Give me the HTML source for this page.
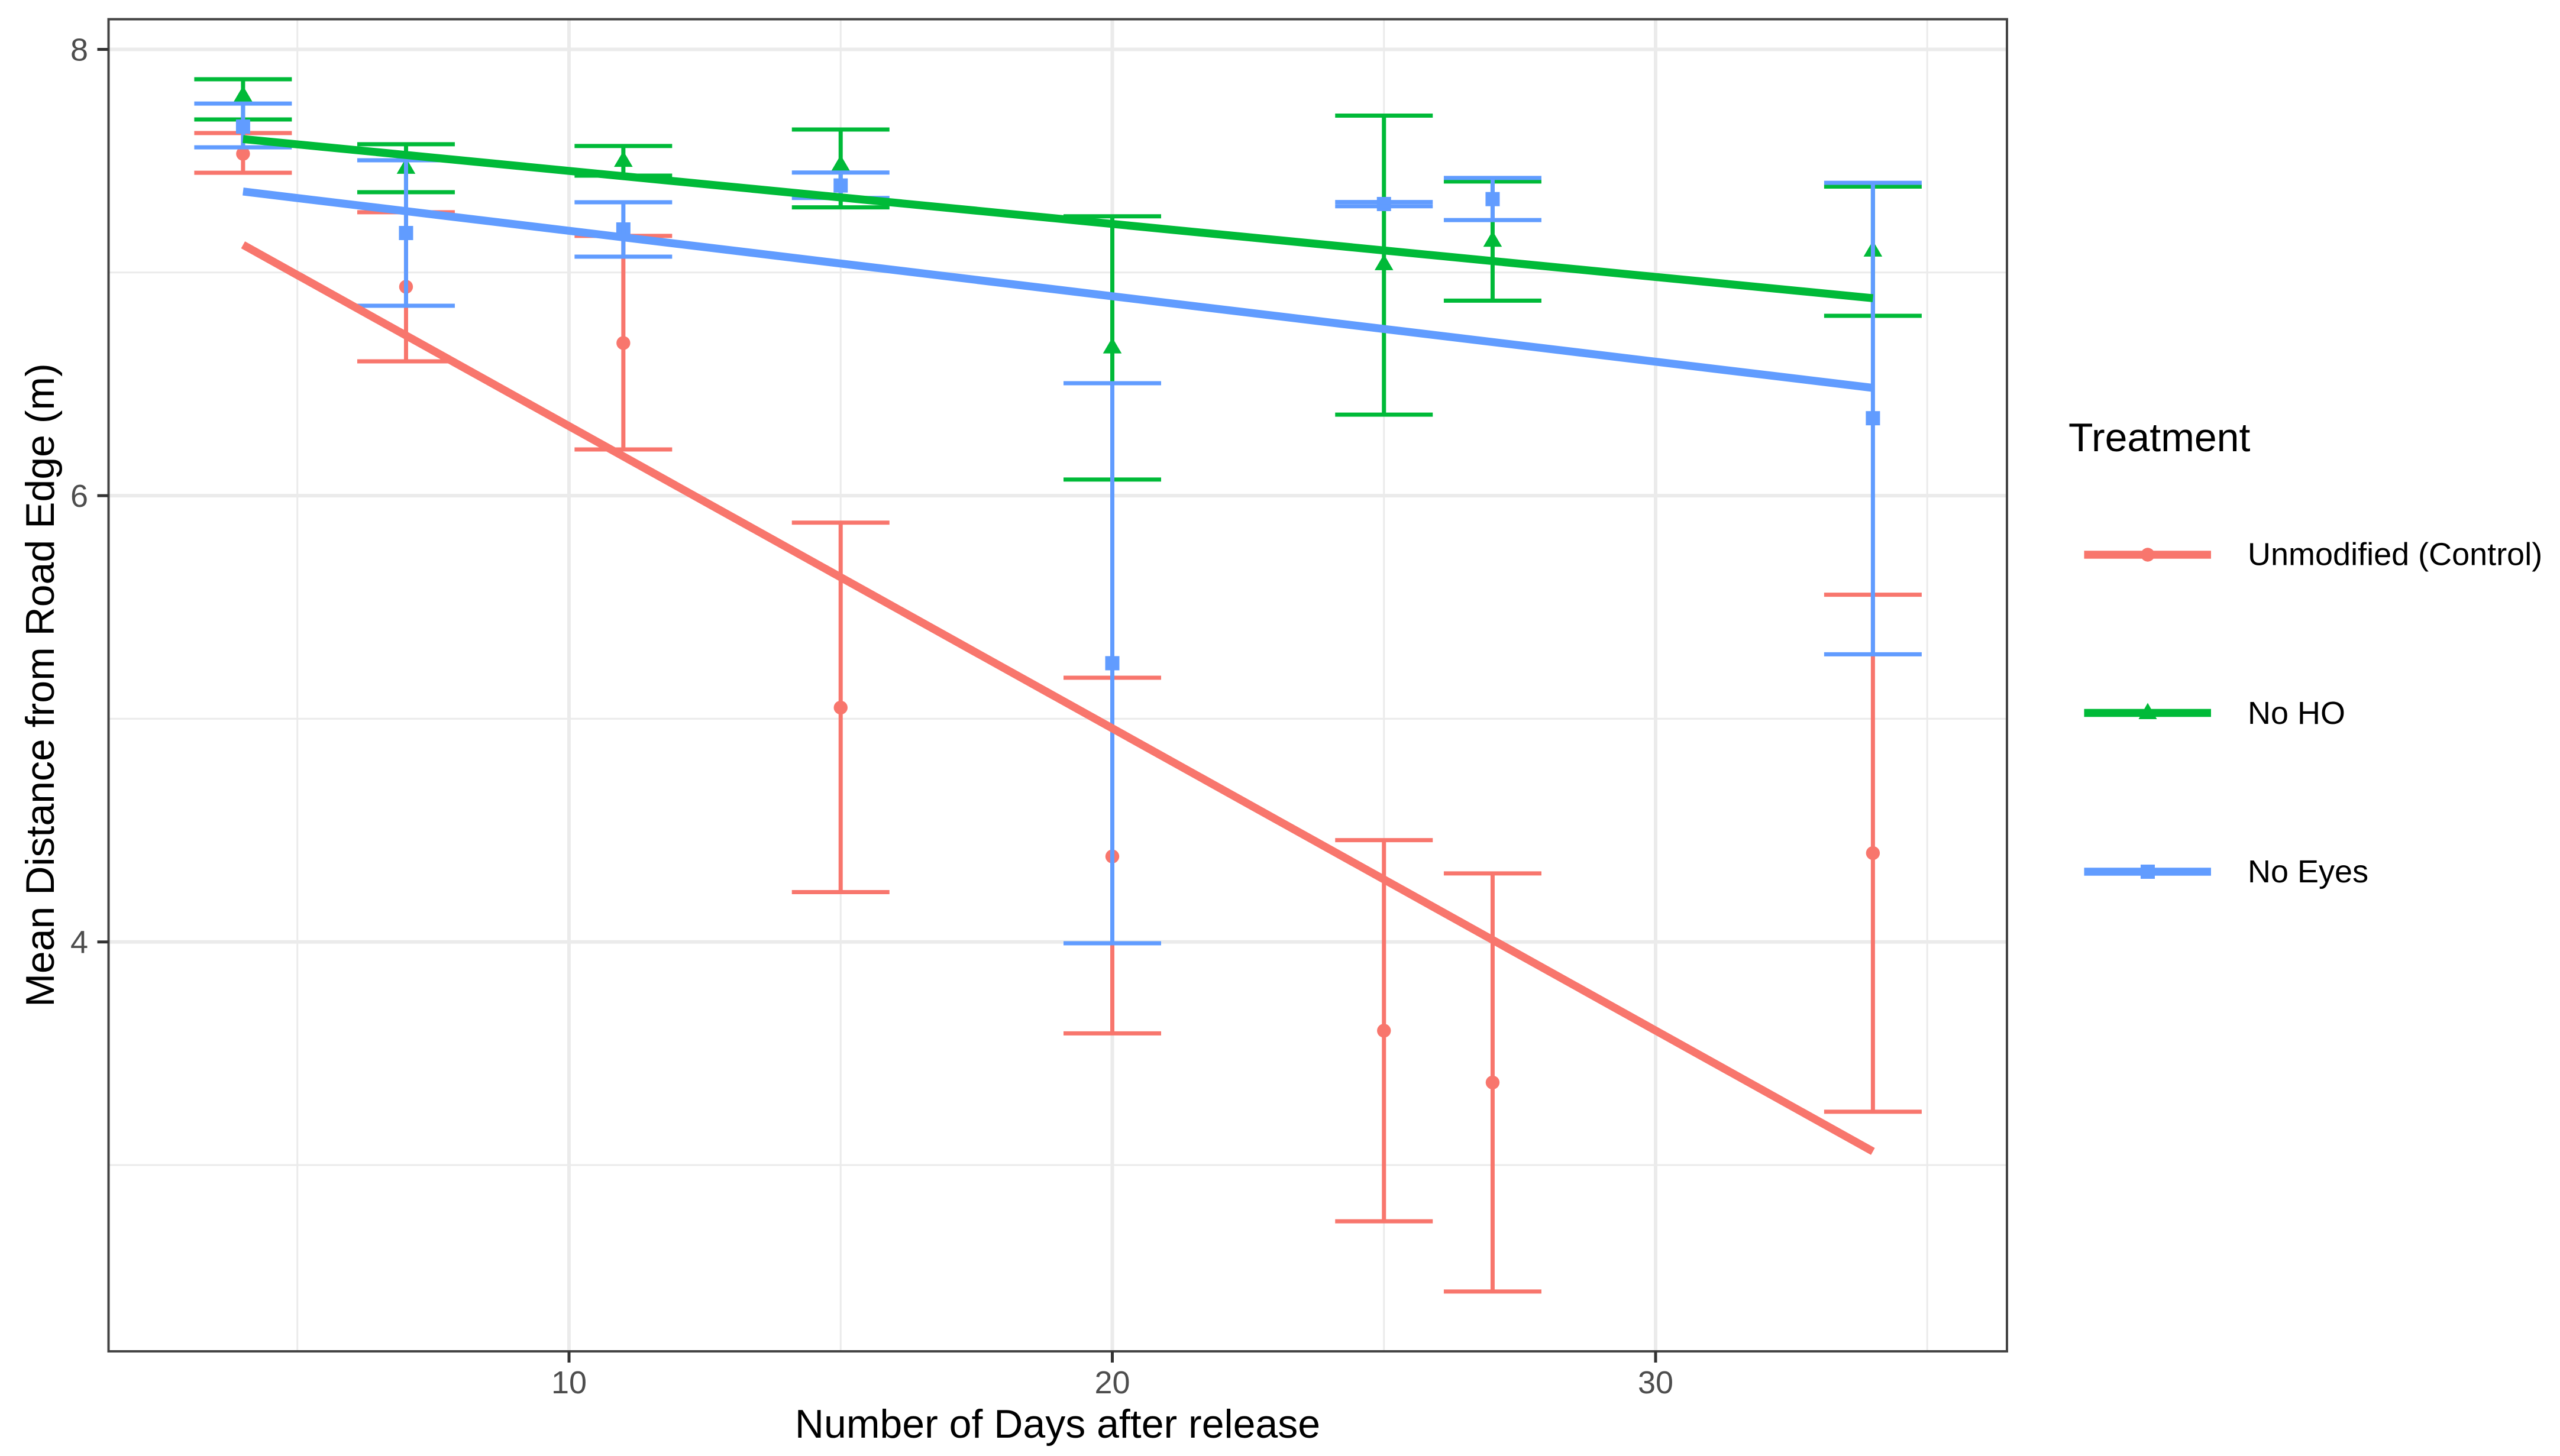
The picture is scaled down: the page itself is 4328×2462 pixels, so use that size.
<!DOCTYPE html>
<html lang="en">
<head>
<meta charset="utf-8">
<title>Mean Distance from Road Edge by Treatment</title>
<style>
  html, body { margin: 0; padding: 0; background: #ffffff; }
  svg { display: block; font-family: "Liberation Sans", Arial, sans-serif; }
  .axis-title, .legend-title { font-size: 68px; fill: #000000; }
  .legend-label { font-size: 54px; fill: #000000; }
  .tick-label { font-size: 54px; fill: #4d4d4d; }
  .grid-major { stroke: #ebebeb; stroke-width: 6; }
  .grid-minor { stroke: #ebebeb; stroke-width: 3; }
  .tick-mark { stroke: #333333; stroke-width: 5; }
  .bar-line { stroke-width: 7; fill: none; }
  .trend-line { stroke-width: 13.5; fill: none; stroke-linecap: butt; }
  .red { stroke: #F8766D; }
  .green { stroke: #00BA38; }
  .blue { stroke: #619CFF; }
  .fill-red { fill: #F8766D; stroke: none; }
  .fill-green { fill: #00BA38; stroke: none; }
  .fill-blue { fill: #619CFF; stroke: none; }
</style>
</head>
<body>
<svg id="chart" xmlns="http://www.w3.org/2000/svg" width="4328" height="2462" viewBox="0 0 4328 2462">
  <rect x="0" y="0" width="4328" height="2462" fill="#ffffff"/>
  <g id="grid"></g>
  <g id="series"></g>
  <g id="trends"></g>
  <rect x="183.5" y="32.5" width="3209.5" height="2252.5" fill="none" stroke="#444444" stroke-width="4"/>
  <g id="axes"></g>

  <text class="axis-title" x="1788" y="2431" text-anchor="middle">Number of Days after release</text>
  <text class="axis-title" transform="translate(91,1158.5) rotate(-90)" text-anchor="middle">Mean Distance from Road Edge (m)</text>

  <g>
    <text class="legend-title" x="3497" y="763">Treatment</text>

    <g>
      <line x1="3523.5" x2="3738" y1="938" y2="938" stroke="#F8766D" stroke-width="13.5"/>
      <circle cx="3631" cy="938" r="11.7" fill="#F8766D"/>
      <text class="legend-label" x="3800" y="955.5">Unmodified (Control)</text>
    </g>

    <g>
      <line x1="3523.5" x2="3738" y1="1205.5" y2="1205.5" stroke="#00BA38" stroke-width="13.5"/>
      <polygon points="3631,1188.5 3646.5,1216 3615.5,1216" fill="#00BA38"/>
      <text class="legend-label" x="3800" y="1224">No HO</text>
    </g>

    <g>
      <line x1="3523.5" x2="3738" y1="1474" y2="1474" stroke="#619CFF" stroke-width="13.5"/>
      <rect x="3619" y="1462" width="24" height="24" fill="#619CFF"/>
      <text class="legend-label" x="3800" y="1492">No Eyes</text>
    </g>
  </g>
</svg>

<script>
// ---- chart data ----
const days = [4, 7, 11, 15, 20, 25, 27, 34];

const unmodifiedMean = [7.532, 6.936, 6.684, 5.050, 4.383, 3.602, 3.370, 4.398];
const unmodifiedLow  = [7.447, 6.602, 6.207, 4.223, 3.590, 2.748, 2.433, 3.239];
const unmodifiedHigh = [7.625, 7.270, 7.164, 5.879, 5.184, 4.456, 4.307, 5.556];

const noHoMean = [7.792, 7.469, 7.500, 7.482, 6.664, 7.037, 7.142, 7.098];
const noHoLow  = [7.686, 7.360, 7.434, 7.292, 6.072, 6.363, 6.874, 6.806];
const noHoHigh = [7.866, 7.575, 7.567, 7.641, 7.252, 7.703, 7.408, 7.385];

const noEyesMean = [7.654, 7.177, 7.193, 7.390, 5.249, 7.307, 7.329, 6.347];
const noEyesLow  = [7.561, 6.851, 7.071, 7.334, 3.994, 7.297, 7.235, 5.289];
const noEyesHigh = [7.757, 7.503, 7.315, 7.448, 6.504, 7.316, 7.424, 7.402];

const trendDays = [4, 34];
const unmodifiedTrend = [7.124, 3.061];
const noHoTrend = [7.598, 6.885];
const noEyesTrend = [7.363, 6.483];

const xMajorTicks = [10, 20, 30];
const xMinorTicks = [5, 15, 25, 35];
const yMajorTicks = [4, 6, 8];
const yMinorTicks = [3, 5, 7];

// ---- axis functions ----
const PANEL_LEFT = 183.5, PANEL_RIGHT = 3393, PANEL_TOP = 32.5, PANEL_BOTTOM = 2285;
function xScale(day) { return 962 + (day - 10) * 91.85; }
function yScale(value) { return 83.5 + (8 - value) * 377.3; }

const SVG_NS = 'http://www.w3.org/2000/svg';
function make(tag, parent, cls) {
  const el = document.createElementNS(SVG_NS, tag);
  if (cls) el.setAttribute('class', cls);
  parent.appendChild(el);
  return el;
}
function setLine(el, x1, y1, x2, y2) {
  el.setAttribute('x1', x1);
  el.setAttribute('y1', y1);
  el.setAttribute('x2', x2);
  el.setAttribute('y2', y2);
}

const gridGroup = document.getElementById('grid');
const seriesGroup = document.getElementById('series');
const trendGroup = document.getElementById('trends');
const axesGroup = document.getElementById('axes');

// ---- gridlines ----
yMinorTicks.forEach(function (v) {
  const el = make('line', gridGroup, 'grid-minor');
  
  
  setLine(el, PANEL_LEFT, yScale(v), PANEL_RIGHT, yScale(v));
});
xMinorTicks.forEach(function (d) {
  const el = make('line', gridGroup, 'grid-minor');
  
  
  setLine(el, xScale(d), PANEL_TOP, xScale(d), PANEL_BOTTOM);
});
yMajorTicks.forEach(function (v) {
  const el = make('line', gridGroup, 'grid-major');
  
  
  setLine(el, PANEL_LEFT, yScale(v), PANEL_RIGHT, yScale(v));
});
xMajorTicks.forEach(function (d) {
  const el = make('line', gridGroup, 'grid-major');
  
  
  setLine(el, xScale(d), PANEL_TOP, xScale(d), PANEL_BOTTOM);
});

// ---- ticks and tick labels ----
xMajorTicks.forEach(function (d) {
  const tick = make('line', axesGroup, 'tick-mark');
  
  
  setLine(tick, xScale(d), PANEL_BOTTOM, xScale(d), PANEL_BOTTOM + 19);
  const label = make('text', axesGroup, 'tick-label');
  
  
  label.setAttribute('x', xScale(d));
  label.setAttribute('y', 2356);
  label.setAttribute('text-anchor', 'middle');
  label.textContent = String(d);
});
yMajorTicks.forEach(function (v) {
  const tick = make('line', axesGroup, 'tick-mark');
  
  
  setLine(tick, PANEL_LEFT - 19, yScale(v), PANEL_LEFT, yScale(v));
  const label = make('text', axesGroup, 'tick-label');
  
  
  label.setAttribute('x', 149);
  label.setAttribute('y', yScale(v) + 19);
  label.setAttribute('text-anchor', 'end');
  label.textContent = String(v);
});

// ---- error bars and points ----
const CAP = 82.5;
function drawErrorBars(low, high, colorClass) {
  days.forEach(function (d, i) {
    const x = xScale(d), yLow = yScale(low[i]), yHigh = yScale(high[i]);
    const stem = make('line', seriesGroup, 'bar-line ' + colorClass);
    
    
    setLine(stem, x, yLow, x, yHigh);
    const capTop = make('line', seriesGroup, 'bar-line ' + colorClass);
    
    
    setLine(capTop, x - CAP, yHigh, x + CAP, yHigh);
    const capBottom = make('line', seriesGroup, 'bar-line ' + colorClass);
    
    
    setLine(capBottom, x - CAP, yLow, x + CAP, yLow);
  });
}

// Unmodified: circles
unmodifiedMean.forEach(function (v, i) {
  const el = make('circle', seriesGroup, 'fill-red');
  
  
  el.setAttribute('cx', xScale(days[i]));
  el.setAttribute('cy', yScale(v));
  el.setAttribute('r', 11.7);
});
drawErrorBars(unmodifiedLow, unmodifiedHigh, 'red');

// No HO: triangles
noHoMean.forEach(function (v, i) {
  const x = xScale(days[i]), y = yScale(v);
  const el = make('polygon', seriesGroup, 'fill-green');
  
  
  el.setAttribute('points', x + ',' + (y - 17) + ' ' + (x + 15.8) + ',' + (y + 10) + ' ' + (x - 15.8) + ',' + (y + 10));
});
drawErrorBars(noHoLow, noHoHigh, 'green');

// No Eyes: squares
noEyesMean.forEach(function (v, i) {
  const el = make('rect', seriesGroup, 'fill-blue');
  
  
  el.setAttribute('x', xScale(days[i]) - 12);
  el.setAttribute('y', yScale(v) - 12);
  el.setAttribute('width', 24);
  el.setAttribute('height', 24);
});
drawErrorBars(noEyesLow, noEyesHigh, 'blue');

// ---- trend lines ----
const unmodifiedLine = make('line', trendGroup, 'trend-line red');


setLine(unmodifiedLine, xScale(trendDays[0]), yScale(unmodifiedTrend[0]), xScale(trendDays[1]), yScale(unmodifiedTrend[1]));

const noHoLine = make('line', trendGroup, 'trend-line green');


setLine(noHoLine, xScale(trendDays[0]), yScale(noHoTrend[0]), xScale(trendDays[1]), yScale(noHoTrend[1]));

const noEyesLine = make('line', trendGroup, 'trend-line blue');


setLine(noEyesLine, xScale(trendDays[0]), yScale(noEyesTrend[0]), xScale(trendDays[1]), yScale(noEyesTrend[1]));
</script>
</body>
</html>
